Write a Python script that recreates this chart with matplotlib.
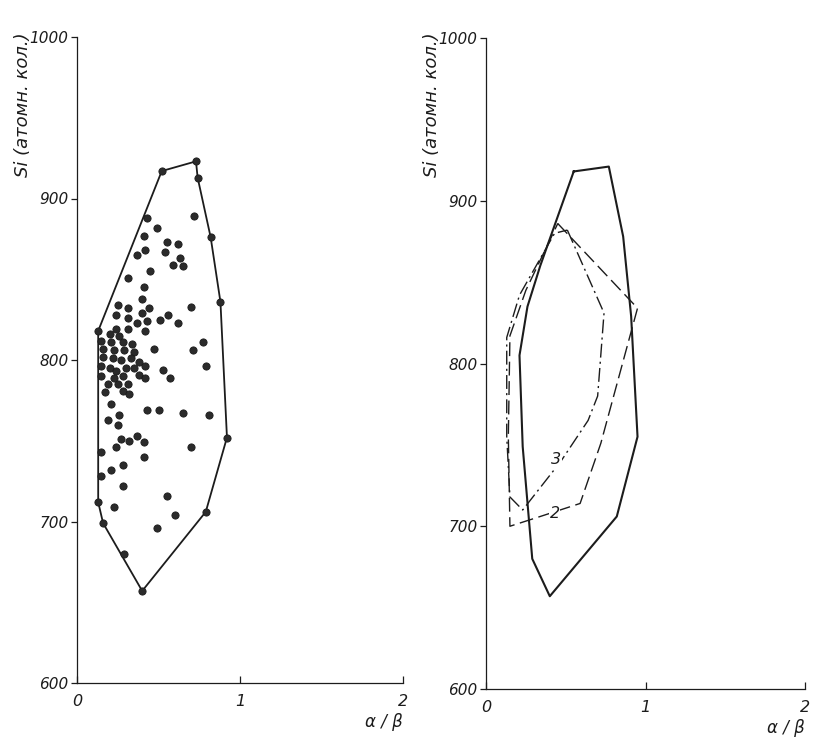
import matplotlib.pyplot as plt

plt.rcParams['font.family'] = 'DejaVu Sans'

# left panel: individual samples (alpha/beta, Si)
dot_x = [0.52, 0.73, 0.74, 0.82, 0.88, 0.92, 0.79, 0.40, 0.16, 0.13, 0.13,
         0.43, 0.49, 0.72, 0.41, 0.55, 0.62, 0.42, 0.37, 0.54, 0.63, 0.59,
         0.65, 0.45, 0.31, 0.41, 0.40, 0.70, 0.25, 0.31, 0.44, 0.40, 0.24,
         0.31, 0.51, 0.56, 0.37, 0.43, 0.62, 0.31, 0.42, 0.24, 0.20, 0.26,
         0.15, 0.21, 0.28, 0.34, 0.16, 0.23, 0.29, 0.35, 0.16, 0.22, 0.27,
         0.33, 0.38, 0.15, 0.20, 0.24, 0.30, 0.35, 0.42, 0.47, 0.71, 0.77,
         0.79, 0.53, 0.15, 0.23, 0.28, 0.38, 0.42, 0.57, 0.19, 0.25, 0.31,
         0.17, 0.28, 0.32, 0.21, 0.43, 0.50, 0.65, 0.81, 0.26, 0.19, 0.25,
         0.27, 0.32, 0.37, 0.41, 0.24, 0.70, 0.15, 0.41, 0.28, 0.21, 0.15,
         0.28, 0.55, 0.23, 0.60, 0.49, 0.29]
dot_y = [917, 923, 913, 876, 836, 752, 706, 657, 699, 712, 818,
         888, 882, 889, 877, 873, 872, 868, 865, 867, 863, 859,
         858, 855, 851, 845, 838, 833, 834, 832, 832, 829, 828,
         826, 825, 828, 823, 824, 823, 819, 818, 819, 816, 815,
         812, 811, 811, 810, 807, 806, 806, 805, 802, 801, 800,
         801, 799, 796, 795, 793, 795, 795, 796, 807, 806, 811,
         796, 794, 790, 789, 790, 791, 789, 789, 785, 785, 785,
         780, 781, 779, 773, 769, 769, 767, 766, 766, 763, 760,
         751, 750, 753, 749, 746, 746, 743, 740, 735, 732, 728,
         722, 716, 709, 704, 696, 680]

# left panel: outline of the field
hull_x = [0.13, 0.52, 0.73, 0.74, 0.82, 0.88, 0.92, 0.79, 0.40, 0.16, 0.13, 0.13]
hull_y = [818, 917, 923, 913, 876, 836, 752, 706, 657, 699, 712, 818]

# right panel: fields 1 (solid), 2 (dashed), 3 (dash-dot)
c1_x = [0.55, 0.77, 0.86, 0.91, 0.95, 0.82, 0.40, 0.29, 0.23, 0.21, 0.26, 0.34, 0.55]
c1_y = [918, 921, 878, 829, 755, 706, 657, 680, 749, 805, 835, 860, 918]
c2_x = [0.45, 0.95, 0.72, 0.59, 0.34, 0.15, 0.14, 0.15, 0.25, 0.45]
c2_y = [886, 834, 751, 714, 706, 700, 755, 817, 845, 886]
c3_x = [0.51, 0.74, 0.70, 0.64, 0.47, 0.23, 0.15, 0.13, 0.13, 0.21, 0.43, 0.51]
c3_y = [882, 831, 780, 765, 740, 710, 718, 755, 816, 842, 880, 882]

yticks = [600, 700, 800, 900, 1000]
xticks = [0, 1, 2]
ink = '#1c1c1c'

fig = plt.figure(figsize=(8.18, 7.44), dpi=100)
W, H = 818, 744
ax1 = fig.add_axes([77 / W, 1 - 683 / H, 326 / W, 646 / H])
ax2 = fig.add_axes([486 / W, 1 - 689 / H, 319 / W, 651 / H])


def style(ax):
    ax.set_xlim(0, 2)
    ax.set_ylim(600, 1000)
    for s in ('top', 'right'):
        ax.spines[s].set_visible(False)
    for s in ('left', 'bottom'):
        ax.spines[s].set_linewidth(0.9)
        ax.spines[s].set_color(ink)
    ax.set_yticks(yticks)
    ax.set_yticklabels([str(v) for v in yticks], style='italic', fontsize=11, color=ink)
    ax.set_xticks(xticks)
    ax.set_xticklabels([str(v) for v in xticks], style='italic', fontsize=11.5, color=ink)
    ax.tick_params(axis='y', direction='out', length=4, width=0.9, pad=2, colors=ink)
    ax.tick_params(axis='x', direction='in', length=5, width=0.9, pad=8, colors=ink)
    ax.set_xlabel('α / β', loc='right', style='italic', fontsize=12, color=ink, labelpad=3)


style(ax1)
style(ax2)

ax1.plot(hull_x, hull_y, color=ink, lw=1.3)
ax1.plot(dot_x, dot_y, 'o', ms=5.2, color='#2b2b2b', mec='#1a1a1a', mew=0.6, ls='none')

ax2.plot(c1_x, c1_y, color=ink, lw=1.5)
ax2.plot(c2_x, c2_y, color=ink, lw=1.0, dashes=(10, 4))
ax2.plot(c3_x, c3_y, color=ink, lw=1.0, dashes=(10, 3, 1.5, 3))
ax2.text(0.43, 708, '2', style='italic', fontsize=11.5, color=ink, ha='center', va='center',
         bbox=dict(fc='white', ec='none', pad=0.5))
ax2.text(0.44, 741, '3', style='italic', fontsize=11.5, color=ink, ha='center', va='center',
         bbox=dict(fc='white', ec='none', pad=0.5))

for xc in (23 / W, 432 / W):
    fig.text(xc, 1 - 105 / H, 'Si (атомн. кол.)', rotation=90, style='italic',
             fontsize=13, color=ink, ha='center', va='center')

fig.savefig('out.png', dpi=100, facecolor='white')
